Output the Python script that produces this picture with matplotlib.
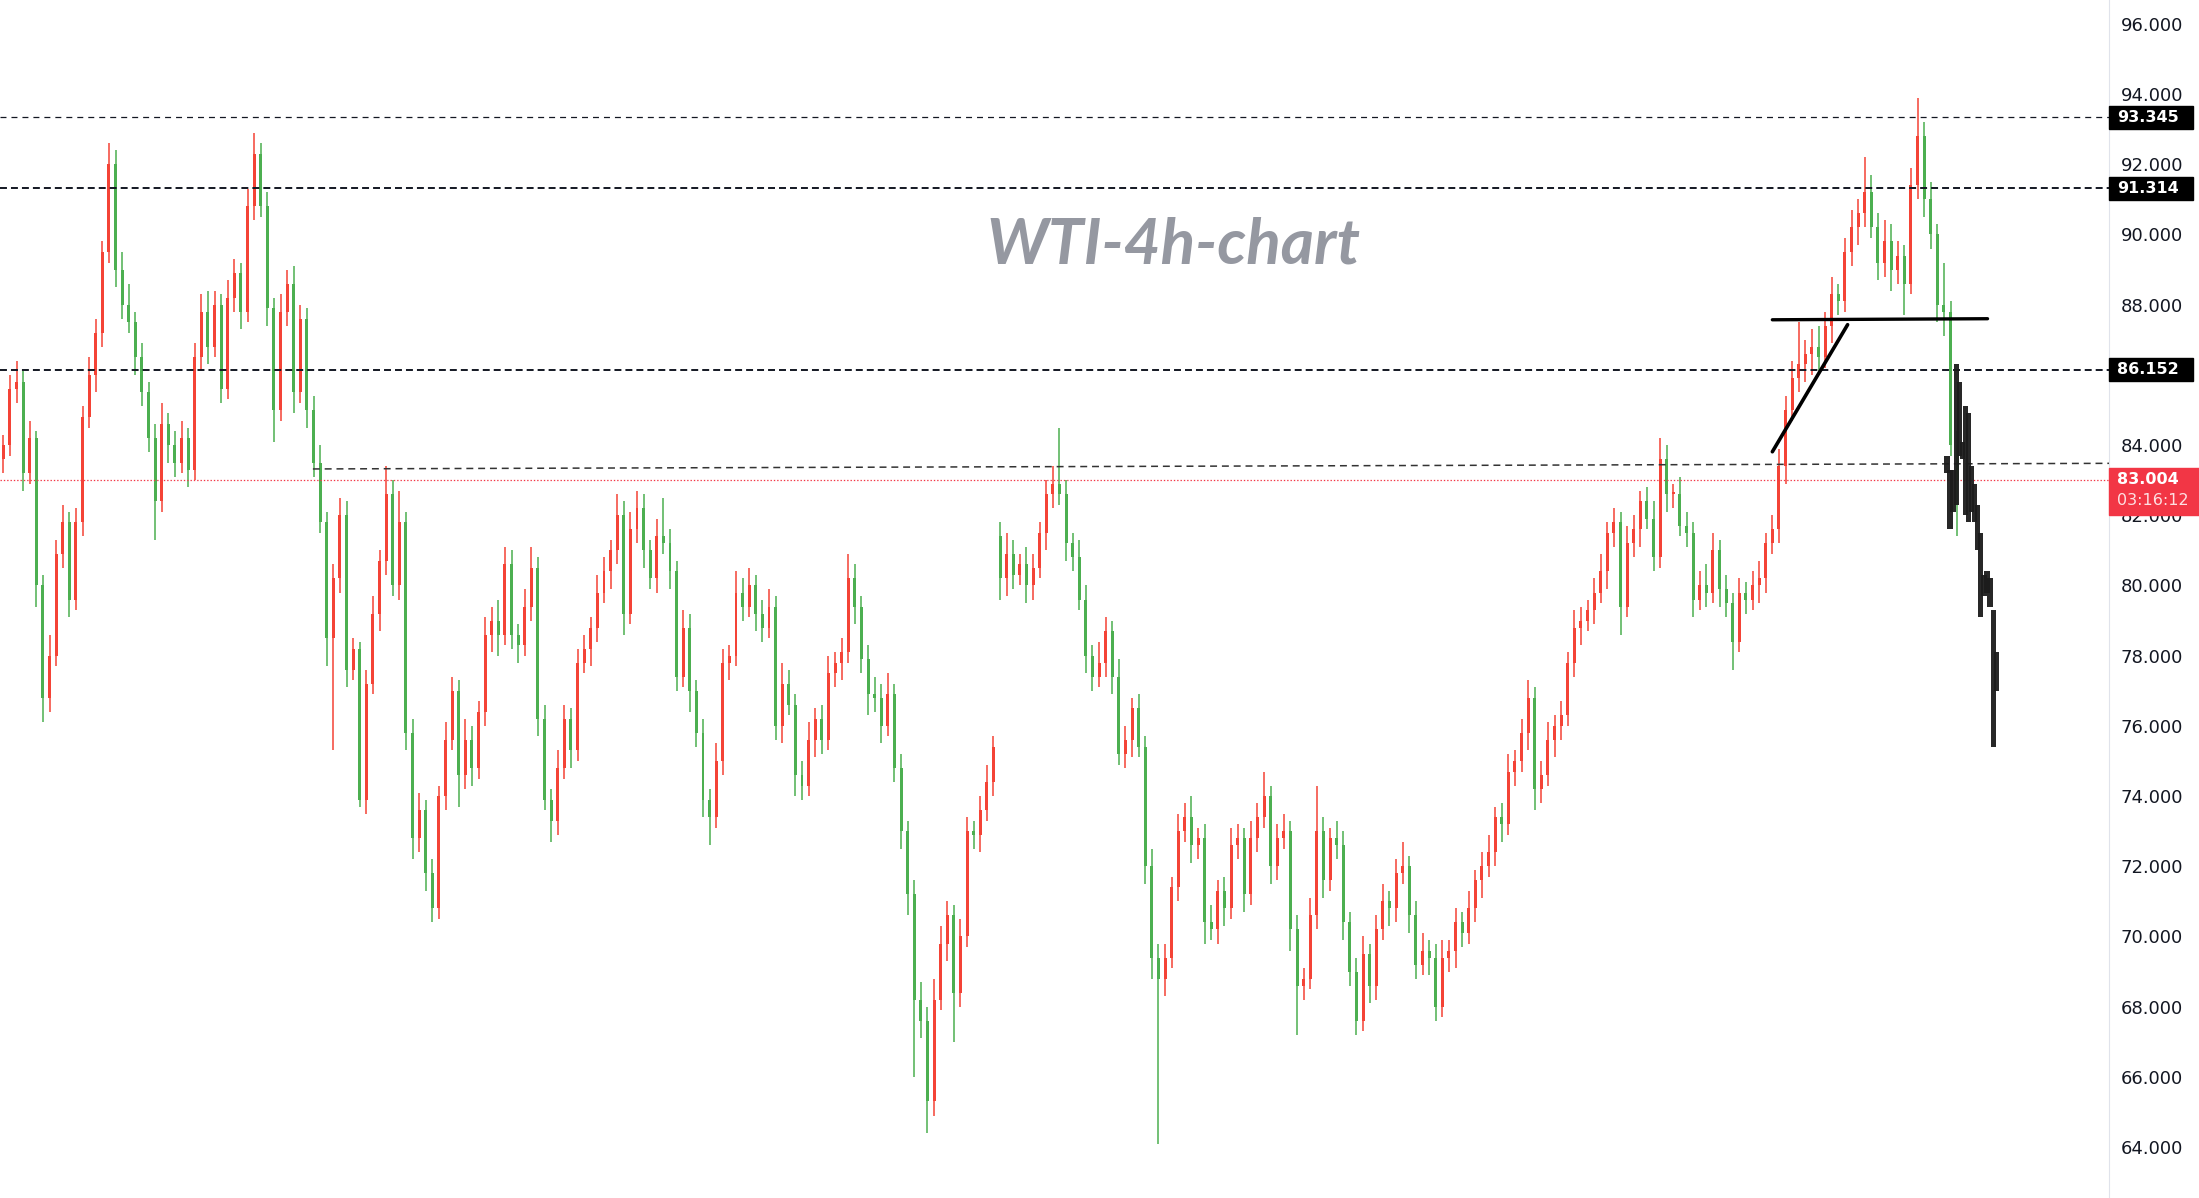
import numpy as np
import matplotlib.pyplot as plt
from matplotlib.patches import Rectangle
from matplotlib.ticker import FormatStrFormatter
from matplotlib.transforms import blended_transform_factory

plt.rcParams['lines.scale_dashes'] = False

# 4h candles (open = previous close)
first_open = 83.6
closes = [
    84.0, 85.6, 85.8, 83.2, 84.2, 80.0, 76.8, 78.0, 80.9, 81.8, 79.6,
    81.8, 84.8, 86.0, 87.2, 89.5, 92.0, 89.0, 88.0, 87.5, 86.5, 85.5,
    84.2, 82.4, 84.6, 84.0, 83.5, 84.2, 83.3, 86.5, 87.8, 86.8, 88.0,
    85.6, 88.2, 88.9, 87.8, 90.8, 92.3, 90.8, 87.9, 85.0, 87.8, 88.6,
    85.5, 87.6, 85.0, 83.5, 81.8, 78.5, 80.2, 82.0, 77.6, 78.2, 73.9,
    77.2, 79.2, 80.7, 82.6, 80.0, 81.8, 75.8, 72.8, 73.6, 71.8, 70.8,
    74.0, 75.6, 77.0, 74.6, 75.6, 74.8, 76.4, 78.6, 79.0, 78.6, 80.6,
    78.6, 78.3, 79.4, 80.5, 76.2, 73.9, 73.3, 74.8, 76.2, 75.3, 77.8,
    78.2, 78.8, 79.8, 80.4, 81.0, 82.0, 79.2, 81.6, 82.2, 81.0, 80.2,
    81.4, 81.2, 80.4, 77.4, 78.8, 77.0, 75.8, 73.9, 73.4, 75.0, 77.8,
    78.0, 79.8, 79.4, 80.0, 79.2, 78.8, 79.4, 76.0, 77.2, 76.6, 74.6,
    74.3, 75.6, 76.2, 75.6, 77.5, 77.8, 78.1, 80.2, 79.4, 77.9, 76.9,
    76.8, 76.0, 76.9, 74.8, 73.0, 71.2, 68.2, 67.6, 65.3, 68.2, 69.8,
    70.6, 68.4, 70.0, 73.0, 72.9, 73.6, 74.4, 75.4, 80.2, 80.9, 80.3,
    80.6, 80.0, 80.5, 81.5, 82.6, 82.9, 82.6, 81.2, 80.8, 79.6, 78.0,
    77.4, 77.8, 78.7, 77.4, 75.2, 75.6, 76.5, 75.4, 72.0, 69.4, 68.8,
    69.4, 71.4, 73.0, 73.4, 72.6, 72.8, 70.4, 70.2, 71.3, 70.8, 72.6,
    72.8, 71.2, 72.8, 73.4, 74.0, 72.0, 72.8, 73.0, 70.2, 68.6, 68.8,
    70.6, 73.0, 71.6, 72.8, 72.6, 70.4, 69.0, 67.6, 69.5, 68.6, 70.2,
    71.0, 70.8, 71.8, 72.0, 70.6, 69.2, 69.6, 69.4, 68.0, 69.4, 69.6,
    70.4, 70.1, 70.8, 71.6, 72.0, 72.4, 73.4, 73.2, 74.7, 75.0, 75.8,
    76.8, 74.2, 74.6, 75.6, 76.0, 76.3, 77.8, 78.8, 79.0, 79.3, 79.8,
    80.4, 81.5, 81.8, 79.4, 81.2, 81.6, 82.4, 81.9, 80.8, 83.6, 82.6,
    82.6, 81.7, 81.5, 79.6, 80.0, 79.8, 81.0, 79.9, 79.5, 78.4, 79.8,
    79.6, 80.0, 80.2, 81.2, 81.6, 83.4, 85.0, 85.9, 86.3, 86.6, 86.8,
    86.5, 87.4, 88.3, 88.1, 89.5, 90.2, 90.6, 91.2, 90.2, 89.2, 89.8,
    89.0, 89.4, 88.6, 91.4, 92.8, 91.0, 90.0, 88.0, 87.8, 84.0, 83.0,
]
# wick lengths in tenths of a dollar
upper_wick = [
    3, 4, 6, 3, 5, 2, 3, 6, 4, 5, 3, 4, 3, 5, 4, 3, 6, 4, 5, 6, 3, 4,
    3, 4, 6, 3, 4, 5, 3, 4, 5, 6, 4, 3, 5, 4, 3, 5, 6, 3, 4, 3, 5, 4,
    5, 4, 3, 4, 5, 3, 4, 5, 4, 3, 2, 4, 5, 3, 8, 4, 9, 3, 4, 5, 3, 4,
    3, 5, 4, 3, 6, 4, 3, 5, 4, 6, 5, 4, 3, 5, 6, 3, 4, 3, 5, 4, 3, 4,
    4, 3, 5, 4, 3, 6, 4, 5, 5, 4, 3, 5, 11, 4, 3, 5, 4, 3, 4, 3, 5, 4,
    3, 6, 4, 5, 3, 4, 5, 3, 6, 4, 3, 4, 5, 3, 4, 5, 3, 4, 7, 4, 3, 4,
    5, 4, 6, 3, 4, 3, 4, 5, 4, 6, 5, 4, 3, 5, 4, 3, 4, 5, 3, 4, 6, 4,
    3, 5, 4, 3, 4, 5, 16, 4, 3, 5, 4, 3, 6, 4, 3, 5, 4, 3, 4, 3, 5, 4,
    4, 3, 5, 4, 6, 3, 4, 5, 3, 4, 5, 4, 3, 5, 4, 7, 3, 4, 5, 3, 4, 3,
    5, 13, 4, 3, 5, 4, 3, 4, 5, 3, 4, 5, 3, 4, 7, 3, 4, 5, 3, 4, 5, 3,
    4, 3, 5, 3, 4, 5, 3, 4, 5, 3, 4, 5, 3, 4, 5, 3, 4, 3, 5, 4, 3, 4,
    5, 3, 4, 3, 5, 4, 3, 4, 5, 6, 4, 3, 5, 4, 3, 4, 6, 5, 3, 4, 3, 4,
    3, 4, 5, 3, 4, 5, 4, 5, 12, 4, 5, 6, 4, 5, 3, 4, 5, 4, 10, 5, 4, 6,
    5, 4, 3, 5, 11, 4, 5, 3, 12, 3, 4,
]
lower_wick = [
    4, 3, 4, 5, 3, 6, 7, 4, 3, 4, 5, 3, 4, 3, 5, 4, 3, 5, 4, 3, 5, 4,
    4, 11, 3, 5, 4, 3, 5, 3, 4, 5, 3, 4, 3, 4, 5, 3, 4, 3, 5, 9, 3, 4,
    6, 3, 5, 4, 3, 8, 32, 4, 5, 3, 2, 4, 3, 5, 4, 3, 4, 5, 6, 4, 5, 4,
    3, 4, 3, 9, 4, 5, 3, 4, 5, 6, 3, 4, 5, 3, 4, 5, 3, 6, 4, 3, 5, 3,
    3, 5, 4, 3, 5, 4, 6, 3, 4, 5, 3, 4, 3, 5, 4, 3, 6, 4, 5, 8, 3, 4,
    5, 3, 4, 3, 5, 4, 3, 4, 5, 3, 6, 4, 3, 5, 4, 3, 4, 5, 3, 5, 4, 6,
    4, 5, 3, 4, 5, 6, 22, 5, 9, 4, 3, 5, 14, 4, 3, 4, 5, 3, 4, 6, 5, 4,
    3, 5, 4, 3, 5, 4, 3, 5, 4, 3, 5, 4, 3, 4, 5, 3, 4, 5, 3, 5, 6, 47,
    5, 3, 4, 3, 5, 4, 6, 3, 4, 5, 3, 4, 5, 3, 4, 3, 5, 4, 3, 6, 14, 4,
    3, 4, 5, 3, 4, 5, 4, 4, 3, 5, 4, 3, 5, 4, 3, 5, 4, 3, 5, 4, 3, 4,
    5, 4, 3, 4, 5, 3, 4, 5, 3, 4, 3, 5, 6, 4, 3, 5, 4, 3, 4, 5, 3, 4,
    3, 5, 4, 8, 3, 4, 5, 3, 4, 3, 5, 4, 3, 4, 5, 3, 4, 3, 5, 4, 8, 3,
    4, 3, 5, 4, 3, 4, 5, 3, 4, 5, 6, 4, 3, 5, 4, 3, 4, 5, 4, 3, 5, 4,
    6, 4, 9, 3, 4, 5, 4, 5, 7, 3, 16,
]
gap_opens = {151: 81.4}  # weekend gap

# projected path drawn in black at the right edge
ghost_lo = [83.2, 81.6, 82.1, 82.3, 83.7, 83.6, 82.0, 81.8, 82.1, 81.8, 81.0, 79.1, 79.7, 79.8, 79.4, 75.4, 77.0]
ghost_hi = [83.7, 83.3, 83.3, 86.3, 85.8, 84.1, 85.1, 84.9, 83.4, 82.9, 82.3, 81.5, 80.3, 80.4, 80.2, 79.3, 78.1]

levels = [93.345, 91.314, 86.152]
last_price = 83.004
countdown = "03:16:12"
title = "WTI-4h-chart"
price_ticks = [64, 66, 68, 70, 72, 74, 76, 78, 80, 82, 84, 88, 90, 92, 94, 96]  # 86 sits under a tag

closes = np.array(closes)
opens = np.r_[first_open, closes[:-1]]
for i, v in gap_opens.items():
    opens[i] = v
highs = np.maximum(opens, closes) + np.array(upper_wick) / 10
lows = np.minimum(opens, closes) - np.array(lower_wick) / 10
x = np.arange(len(closes))
colors = np.where(closes >= opens, '#f44336', '#4caf50')

fig = plt.figure(figsize=(21.99, 11.98), dpi=100)
ax = fig.add_axes([0, 0, 2109 / 2199, 1])

ax.vlines(x, lows, highs, colors=colors, lw=1.1, zorder=2)
ax.bar(x, np.maximum(np.abs(closes - opens), 0.06), bottom=np.minimum(opens, closes),
       width=0.45, color=colors, zorder=2)

gx = 294.45 + np.arange(len(ghost_lo)) * 0.467
ax.bar(gx, np.array(ghost_hi) - np.array(ghost_lo), bottom=ghost_lo, width=0.8,
       color='#1c1c1c', alpha=0.95, zorder=4)

# horizontal levels
ax.axhline(levels[0], color='#131722', lw=0.9, dashes=(4.3, 3.6), zorder=3)
for lvl in levels[1:]:
    ax.axhline(lvl, color='#131722', lw=1.4, dashes=(5, 2.9), zorder=3)
ax.plot([46.9, 319.0], [83.32, 83.48], color='#333333', lw=1.1, dashes=(5, 3.5), zorder=3)
ax.axhline(last_price, color='#f23645', lw=0.9, dashes=(1, 1.4), zorder=3)

# neckline and rising wedge line
ax.plot([268, 300.6], [87.57, 87.6], color='black', lw=2.4, solid_capstyle='round', zorder=5)
ax.plot([268, 279.4], [83.81, 87.43], color='black', lw=2.6, solid_capstyle='round', zorder=5)

fig.text(0.5334, 0.7802, title, ha='center', va='baseline', fontsize=46,
         fontweight='bold', style='italic', family='Lato', color='#9598a1')

# price scale
ax.set_xlim(-0.5, 319.0)
ax.set_ylim(62.55, 96.68)
ax.yaxis.tick_right()
ax.set_yticks(price_ticks)
ax.yaxis.set_major_formatter(FormatStrFormatter('%.3f'))
ax.tick_params(axis='y', length=0, pad=8.5, labelsize=13, labelcolor='#131722')
ax.set_xticks([])
for s in ['top', 'left', 'bottom']:
    ax.spines[s].set_visible(False)
ax.spines['right'].set_color('#e0e3eb')

trans = blended_transform_factory(fig.transFigure, ax.transData)
half = 11.5 / 35.1
for lvl in levels:
    ax.add_patch(Rectangle((2109 / 2199, lvl - half), 84 / 2199, 2 * half, transform=trans,
                           color='black', clip_on=False, zorder=6))
    ax.text(2117 / 2199, lvl, f'{lvl:.3f}', transform=trans, ha='left', va='center',
            color='white', fontsize=11.5, fontweight='bold', zorder=7, clip_on=False)

ax.add_patch(Rectangle((2109 / 2199, 82.01), 90 / 2199, 1.34, transform=trans,
                       color='#f23645', clip_on=False, zorder=6))
ax.text(2117 / 2199, 83.01, f'{last_price:.3f}', transform=trans, ha='left', va='center',
        color='white', fontsize=11.5, fontweight='bold', zorder=7, clip_on=False)
ax.text(2117 / 2199, 82.41, countdown, transform=trans, ha='left', va='center',
        color='#fde0e2', fontsize=11.5, zorder=7, clip_on=False)
ax.set_xlim(-0.5, 319.0)
ax.set_ylim(62.55, 96.68)

fig.savefig('out.png', dpi=100)
